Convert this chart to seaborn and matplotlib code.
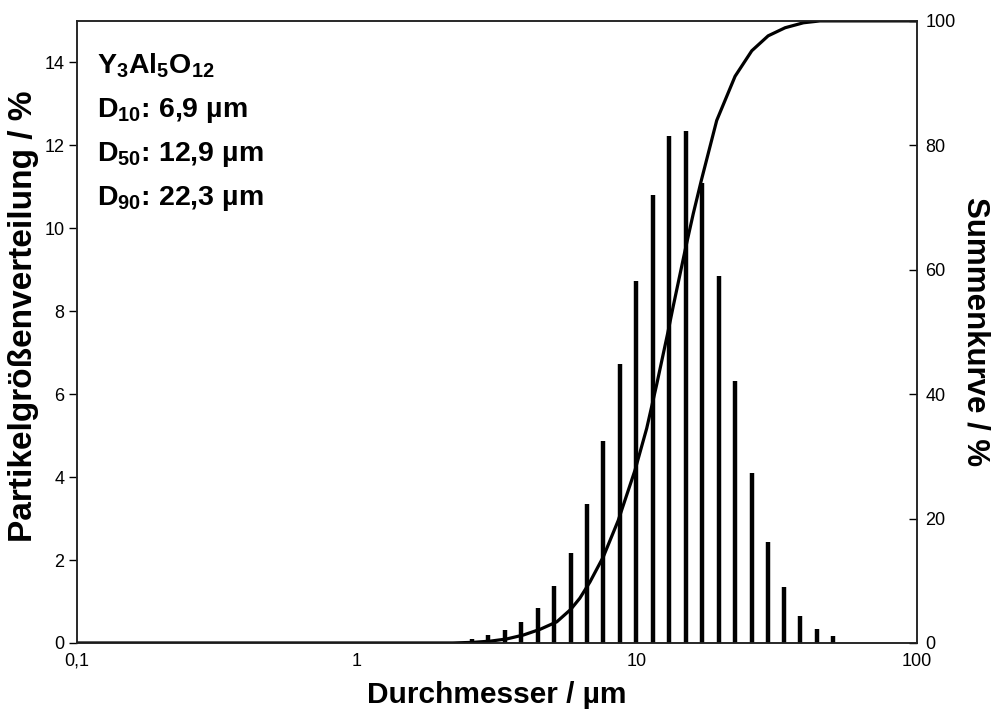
import matplotlib
matplotlib.use("Agg")
import matplotlib.pyplot as plt
import matplotlib.ticker as mticker
import seaborn as sns

# Partikelgrößenverteilung (Klassenmitten in µm, Anteil in %)
diameter = [2.57, 2.94, 3.37, 3.86, 4.42, 5.06, 5.79, 6.61, 7.58, 8.70, 9.92,
            11.38, 13.04, 14.93, 17.10, 19.58, 22.39, 25.68, 29.30, 33.50,
            38.30, 43.95, 50.23]
fraction = [0.10, 0.19, 0.31, 0.51, 0.84, 1.37, 2.17, 3.34, 4.87, 6.72, 8.72,
            10.81, 12.22, 12.35, 11.09, 8.85, 6.32, 4.09, 2.43, 1.34,
            0.65, 0.33, 0.17]

# Summenkurve
curve_d = [0.1, 2.2, 2.6, 3.0, 3.42, 3.93, 4.51, 5.17, 5.8, 6.25, 6.79, 7.58,
           8.57, 9.84, 10.83, 11.75, 12.9, 13.48, 14.83, 15.88, 17.0,
           19.26, 22.4, 25.7, 29.4, 33.8, 39.3, 45.0, 100.0]
curve_cum = [0, 0, 0.1, 0.3, 0.64, 1.28, 2.2, 3.4, 5.4, 7.2, 9.8, 13.85,
             19.7, 27.8, 34.5, 41.5, 50.0, 54.2, 63.0, 69.0, 74.5,
             84.0, 91.1, 95.2, 97.6, 98.9, 99.7, 100, 100]

x_ticks = [0.1, 1, 10, 100]
x_ticklabels = ["0,1", "1", "10", "100"]

sns.set_style("white")
plt.rcParams["font.family"] = ["Liberation Sans", "DejaVu Sans"]
plt.rcParams["text.color"] = "black"
plt.rcParams["axes.labelcolor"] = "black"
plt.rcParams["mathtext.fontset"] = "custom"
plt.rcParams["mathtext.bf"] = "Liberation Sans:bold"
plt.rcParams["mathtext.rm"] = "Liberation Sans:bold"
plt.rcParams["mathtext.default"] = "bf"

fig = plt.figure(figsize=(9.96, 7.16), dpi=100)
ax = fig.add_axes([0.0773, 0.102, 0.8434, 0.8688])
ax.set_xscale("log")
ax.vlines(diameter, 0, fraction, colors="black", linewidth=3.2)
ax.set_xlim(0.1, 100)
ax.set_ylim(0, 15)
ax.set_yticks(range(0, 15, 2))
ax.xaxis.set_major_locator(mticker.FixedLocator(x_ticks))
ax.xaxis.set_major_formatter(mticker.FixedFormatter(x_ticklabels))
ax.xaxis.set_minor_locator(mticker.LogLocator(base=10, subs=range(2, 10)))
ax.xaxis.set_minor_formatter(mticker.NullFormatter())

ax2 = ax.twinx()
sns.lineplot(x=curve_d, y=curve_cum, ax=ax2, color="black", linewidth=2.3,
             sort=False)
ax2.set_ylim(0, 100)
ax2.set_yticks(range(0, 101, 20))
ax2.set_xlim(0.1, 100)

for spine in list(ax.spines.values()) + list(ax2.spines.values()):
    spine.set_color("#222222")
    spine.set_linewidth(1.1)

ax.tick_params(axis="y", direction="out", length=6, width=1, labelsize=13,
               pad=3, colors="black")
ax.tick_params(axis="x", which="major", direction="in", length=6, width=1,
               labelsize=13, pad=7, colors="black")
ax.tick_params(axis="x", which="minor", direction="in", length=4, width=0.8)
ax2.tick_params(axis="y", direction="in", length=6, width=1, labelsize=13,
                pad=6, colors="black")

ax.set_xlabel("Durchmesser / µm", fontsize=21.5, fontweight="bold",
              labelpad=8)
ax.set_ylabel("Partikelgrößenverteilung / %", fontsize=24,
              fontweight="bold")
ax.yaxis.set_label_coords(-0.045, 0.525)
ax2.set_ylabel("Summenkurve / %", fontsize=22.5, fontweight="bold",
               rotation=270, labelpad=25)

notes = [r"Y$_3$Al$_5$O$_{12}$", r"D$_{10}$: 6,9 µm", r"D$_{50}$: 12,9 µm",
         r"D$_{90}$: 22,3 µm"]
for i, note in enumerate(notes):
    ax.text(0.024, 0.9155 - i * 0.0705, note, transform=ax.transAxes,
            fontsize=20.5, fontweight="bold", ha="left", va="baseline")

fig.savefig("out.png", dpi=100)
